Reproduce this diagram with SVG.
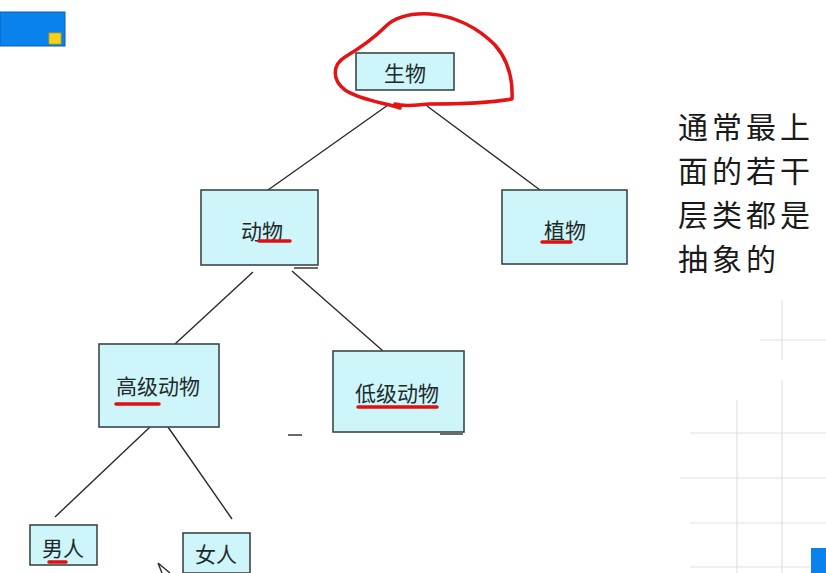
<svg xmlns="http://www.w3.org/2000/svg" width="826" height="573" viewBox="0 0 826 573">
<style>
.box{fill:#cdf5fa;stroke:#3c4848;stroke-width:1.6}
.lbl{font-family:"Noto Sans CJK SC","Noto Sans",sans-serif;font-size:21px;fill:#1e2a2a;text-anchor:middle;dominant-baseline:central}
.ul{stroke:#e01010;stroke-width:3.5;stroke-linecap:round}
.edge{stroke:#2a2a2a;stroke-width:1.4;fill:none}
.note{font-family:"Noto Sans CJK SC","Noto Sans",sans-serif;font-size:30px;letter-spacing:4px;fill:#1a1a1a;dominant-baseline:central}
.grid{stroke:#e2e2e2;stroke-width:1.2}
</style>
<rect width="826" height="573" fill="#ffffff"/>
<g id="grid">
<line class="grid" x1="690" y1="433" x2="826" y2="433"/>
<line class="grid" x1="680" y1="478" x2="826" y2="478"/>
<line class="grid" x1="690" y1="523" x2="826" y2="523"/>
<line class="grid" x1="690" y1="567" x2="826" y2="567"/>
<line class="grid" x1="737" y1="400" x2="737" y2="573"/>
<line class="grid" x1="782" y1="380" x2="782" y2="573"/>
<line class="grid" x1="760" y1="340" x2="826" y2="340"/>
<line class="grid" x1="782" y1="300" x2="782" y2="360"/>
</g>
<g id="corner-tl">
<rect x="0" y="12" width="65" height="34" fill="#0a82ee" stroke="#0a5fb0" stroke-width="1"/>
<rect x="49" y="33" width="12" height="11" fill="#f7d21a" stroke="#c8a000" stroke-width="0.8"/>
</g>
<g id="corner-br">
<rect x="811" y="548" width="15" height="25" fill="#0a82ee"/>
</g>
<g id="connectors">
<line class="edge" x1="388" y1="105" x2="268" y2="190"/>
<line class="edge" x1="427" y1="106" x2="540" y2="190"/>
<line class="edge" x1="253" y1="272" x2="175" y2="344"/>
<line class="edge" x1="292" y1="271" x2="383" y2="351"/>
<line class="edge" x1="150" y1="427" x2="55" y2="517"/>
<line class="edge" x1="168" y1="427" x2="232" y2="519"/>
<line class="edge" x1="294" y1="268" x2="318" y2="268"/>
<line class="edge" x1="288" y1="435" x2="302" y2="435"/>
<line class="edge" x1="440" y1="434" x2="463" y2="434"/>
</g>
<g id="node-shengwu">
<rect class="box" x="356" y="53" width="98" height="37"/>
<text class="lbl" x="405" y="72">生物</text>
</g>
<g id="node-dongwu">
<rect class="box" x="201" y="190" width="117" height="75"/>
<text class="lbl" x="262" y="230">动物</text>
<line class="ul" x1="259" y1="241" x2="290" y2="241"/>
</g>
<g id="node-zhiwu">
<rect class="box" x="502" y="190" width="125" height="74"/>
<text class="lbl" x="565" y="229">植物</text>
<line class="ul" x1="542" y1="242" x2="571" y2="242"/>
</g>
<g id="node-gaoji">
<rect class="box" x="99" y="344" width="120" height="83"/>
<text class="lbl" x="158" y="385">高级动物</text>
<line class="ul" x1="116" y1="404" x2="159" y2="404"/>
</g>
<g id="node-diji">
<rect class="box" x="333" y="351" width="131" height="81"/>
<text class="lbl" x="397" y="392">低级动物</text>
<line class="ul" x1="358" y1="407" x2="437" y2="407"/>
</g>
<g id="node-nanren">
<rect class="box" x="30" y="525" width="67" height="40"/>
<text class="lbl" x="63" y="547">男人</text>
<line class="ul" x1="49" y1="562" x2="66" y2="562"/>
</g>
<g id="node-nvren">
<rect class="box" x="183" y="533" width="67" height="40"/>
<text class="lbl" x="216" y="553">女人</text>
</g>
<g id="highlight">
<path d="M400,108 C385,103 360,100 345,90 C332,80 332,65 345,57 C360,48 372,40 385,27 C395,17 410,13 430,14 C455,16 478,28 495,45 C508,60 513,78 512,99 C490,103 460,104 430,104 C415,105 405,107 395,104" fill="none" stroke="#e41414" stroke-width="3.5" stroke-linecap="round" stroke-linejoin="round"/>
</g>
<g id="note">
<text class="note" x="678" y="125">通常最上</text>
<text class="note" x="678" y="169">面的若干</text>
<text class="note" x="678" y="213">层类都是</text>
<text class="note" x="678" y="257">抽象的</text>
</g>
<g id="cursor">
<path d="M158,563 L170,573 M158,563 L162,573" stroke="#333" stroke-width="1.5" fill="none"/>
</g>
</svg>
